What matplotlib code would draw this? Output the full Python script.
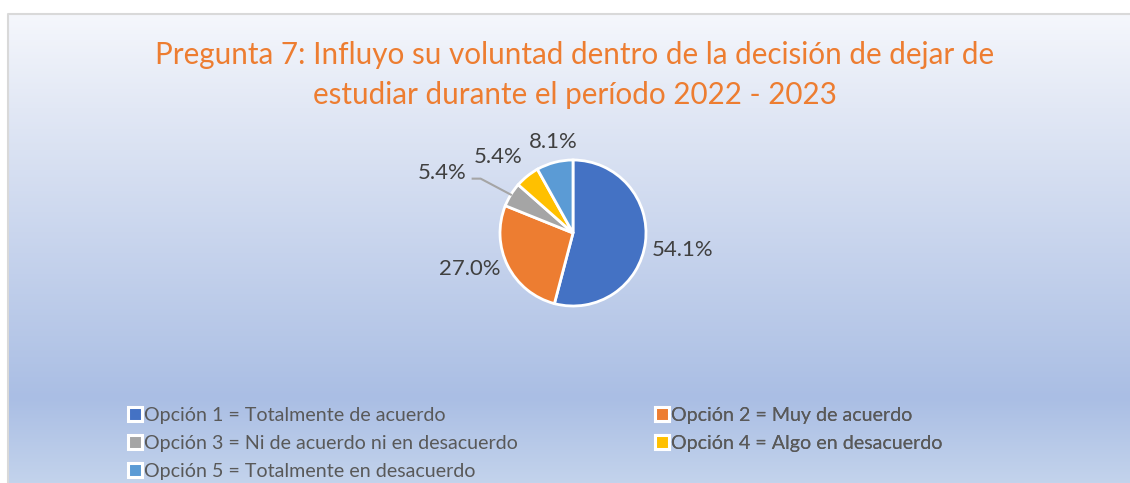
import numpy as np
import matplotlib
matplotlib.use("Agg")
import matplotlib.pyplot as plt
from matplotlib.colors import LinearSegmentedColormap
from matplotlib.lines import Line2D

# data
categories = ["Opción 1 = Totalmente de acuerdo",
              "Opción 2 = Muy de acuerdo",
              "Opción 3 = Ni de acuerdo ni en desacuerdo",
              "Opción 4 = Algo en desacuerdo",
              "Opción 5 = Totalmente en desacuerdo"]
percentages = [54.1, 27.0, 5.4, 5.4, 8.1]
colors = ["#4472C4", "#ED7D31", "#A5A5A5", "#FFC000", "#5B9BD5"]
title = "Pregunta 7: Influyo su voluntad dentro de la decisión de dejar de\nestudiar durante el período 2022 - 2023"

plt.rcParams["font.family"] = ["Lato", "DejaVu Sans"]

W, H = 1130, 483
fig = plt.figure(figsize=(W / 100, H / 100), dpi=100)
ax = fig.add_axes([0, 0, 1, 1])

# background gradient of the chart area
grad_cmap = LinearSegmentedColormap.from_list(
    "bg", [(0.0, "#F5F7FC"), (0.2, "#E2E8F5"), (0.82, "#AABEE4"), (1.0, "#C3D3EC")])
g = np.linspace(0, 1, 256).reshape(-1, 1)
ax.imshow(g, cmap=grad_cmap, extent=[8, W, 0, H - 14], aspect="auto", zorder=0)
ax.plot([8, 8, W], [0, H - 14, H - 14], color="#D9D9D9", lw=1.5, zorder=1)

# pie
cx, cy, r = 573, H - 233, 73
wedges, _ = ax.pie(percentages, colors=colors, startangle=90, counterclock=False,
                   center=(cx, cy), radius=r, frame=True,
                   wedgeprops=dict(edgecolor="white", linewidth=2))
ax.set_xlim(0, W)
ax.set_ylim(0, H)
ax.set_aspect("auto")
ax.axis("off")

# data labels (distance factor, angle tweak) per wedge
label_dist = [1.52, 1.50, 1.98, 1.46, 1.27]
label_shift = [-1.5, -7.5, 7.0, 6.0, -2.5]
for i, (w, p) in enumerate(zip(wedges, percentages)):
    mid = np.deg2rad((w.theta1 + w.theta2) / 2 + label_shift[i])
    tx = cx + r * label_dist[i] * np.cos(mid)
    ty = cy + r * label_dist[i] * np.sin(mid)
    ax.text(tx, ty, f"{p:.1f}%", ha="center", va="center", fontsize=15.9,
            color="#404040", zorder=5)
    if i == 2:
        m = np.deg2rad((w.theta1 + w.theta2) / 2)
        ex, ey = cx + r * np.cos(m), cy + r * np.sin(m)
        ax.plot([tx + 31, tx + 39, ex], [ty - 6, ty - 6, ey], color="#A5A5A5",
                lw=1.5, zorder=4)

# title
ax.text(575, H - 75, title, ha="center", va="center", fontsize=21.3,
        color="#ED7D31", linespacing=1.5)

# legend
def handle(c):
    return Line2D([], [], marker="s", linestyle="none", markersize=10,
                  markerfacecolor=c, markeredgecolor="white", markeredgewidth=2.2)

cols = [[0, 2, 4], [1, 3]]
anchors = [(129, H - 407), (656, H - 407)]
for col, anc in zip(cols, anchors):
    leg = ax.legend([handle(colors[k]) for k in col], [categories[k] for k in col],
                    loc="upper left", bbox_to_anchor=anc, bbox_transform=ax.transData,
                    frameon=False, fontsize=14.1, labelcolor="#595959",
                    handlelength=0.6, handletextpad=0.15, labelspacing=0.55,
                    borderpad=0, borderaxespad=0)
    ax.add_artist(leg)

fig.savefig("out.png", dpi=100)
